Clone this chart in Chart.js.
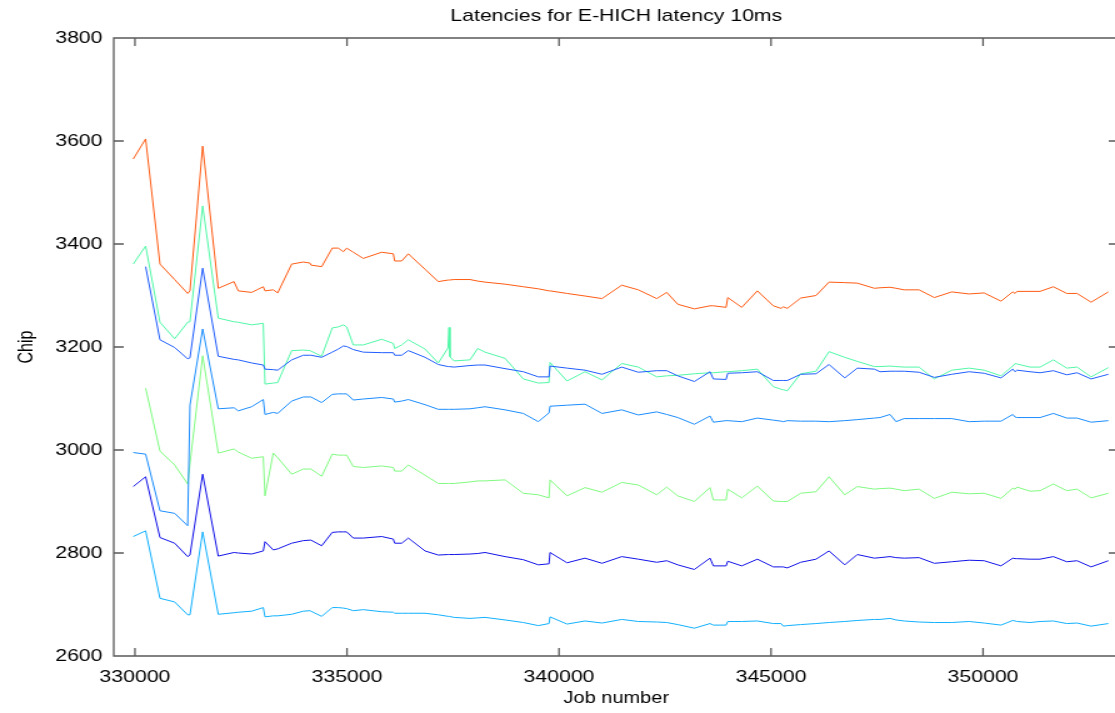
<!DOCTYPE html>
<html>
<head>
<meta charset="utf-8">
<title>Latencies for E-HICH latency 10ms</title>
<script src="https://cdn.jsdelivr.net/npm/chart.js@4"></script>
<style>
    html, body { margin: 0; padding: 0; background: #fff; overflow: hidden; }
</style>
</head>
<body>
<!-- plot is laid out on a narrower canvas and widened on screen -->
<canvas id="latency" width="900" height="713" style="display: block; width: 1125px; height: 713px;"></canvas>
<script>
"use strict";

// job numbers shared by every chip trace
var jobs = [
    329960, 330252, 330590, 330936, 331243, 331297, 331597, 331965, 332335, 332436,
    332752, 333026, 333066, 333262, 333366, 333696, 333969, 334127, 334151, 334403,
    334653, 334795, 334913, 334993, 335149, 335384, 335818, 336092, 336125, 336290,
    336446, 336840, 337153, 337382, 337406, 337429, 337524, 337901, 338083, 338255,
    338727, 339158, 339512, 339764, 339788, 340189, 340613, 341014, 341479, 341870,
    342304, 342540, 342800, 343191, 343561, 343639, 343939, 343979, 344309, 344677,
    345054, 345236, 345290, 345384, 345700, 346061, 346368, 346738, 347035, 347436,
    347571, 347806, 347948, 348136, 348490, 348851, 349262, 349670, 350024, 350424,
    350700, 350755, 350802, 351108, 351344, 351658, 351974, 352217, 352547, 352955
];

var chipOrange = [
    3565, 3604, 3361, 3331, 3304, 3309, 3590, 3314, 3327, 3309,
    3306, 3317, 3309, 3311, 3305, 3361, 3365, 3363, 3359, 3356,
    3392, 3392, 3385, 3392, 3384, 3372, 3384, 3381, 3367, 3367,
    3381, 3351, 3327, 3330, 3330, 3330, 3331, 3331, 3328, 3326,
    3322, 3317, 3313, 3309, 3309, 3304, 3299, 3294, 3320, 3311,
    3294, 3306, 3283, 3274, 3280, 3280, 3277, 3296, 3277, 3309,
    3280, 3275, 3278, 3275, 3295, 3300, 3326, 3325, 3324, 3314,
    3315, 3316, 3314, 3311, 3311, 3296, 3307, 3303, 3305, 3289,
    3307, 3304, 3308, 3308, 3308, 3317, 3304, 3304, 3287, 3307
];

var chipMint = [
    3361, 3396, 3248, 3216, 3248, 3249, 3474, 3256, 3249, 3248,
    3243, 3246, 3128, 3130, 3131, 3193, 3194, 3193, 3192, 3182,
    3237, 3239, 3243, 3239, 3204, 3204, 3215, 3207, 3197, 3204,
    3214, 3196, 3169, 3198, 3238, 3181, 3173, 3175, 3197, 3190,
    3178, 3138, 3130, 3131, 3170, 3134, 3152, 3136, 3168, 3161,
    3142, 3144, 3145, 3148, 3150, 3150, 3152, 3152, 3154, 3157,
    3123, 3118, 3117, 3115, 3148, 3153, 3191, 3180, 3172, 3162,
    3162, 3163, 3162, 3161, 3161, 3138, 3155, 3159, 3155, 3144,
    3163, 3168, 3167, 3161, 3161, 3175, 3159, 3161, 3142, 3160
];

var chipRoyal = [
    null, 3356, 3214, 3199, 3177, 3179, 3353, 3182, 3176, 3175,
    3169, 3165, 3157, 3156, 3155, 3175, 3184, 3184, 3184, 3180,
    3190, 3196, 3202, 3201, 3195, 3190, 3189, 3189, 3184, 3184,
    3193, 3180, 3166, 3162, 3162, 3162, 3161, 3164, 3165, 3165,
    3158, 3152, 3142, 3142, 3163, 3159, 3155, 3147, 3161, 3151,
    3154, 3154, 3144, 3133, 3152, 3138, 3137, 3149, 3150, 3152,
    3135, 3135, 3135, 3135, 3147, 3148, 3166, 3140, 3159, 3157,
    3152, 3153, 3153, 3153, 3151, 3141, 3147, 3152, 3149, 3140,
    3157, 3152, 3155, 3152, 3150, 3154, 3146, 3150, 3138, 3147
];

var chipAzure = [
    2995, 2992, 2882, 2877, 2853, 3087, 3235, 3080, 3082, 3076,
    3084, 3098, 3069, 3073, 3071, 3095, 3103, 3103, 3103, 3092,
    3108, 3109, 3109, 3109, 3097, 3099, 3102, 3099, 3093, 3095,
    3098, 3088, 3079, 3079, 3079, 3079, 3079, 3080, 3082, 3084,
    3078, 3071, 3055, 3072, 3085, 3087, 3089, 3071, 3078, 3068,
    3074, 3069, 3063, 3050, 3066, 3054, 3057, 3057, 3055, 3062,
    3058, 3056, 3055, 3057, 3056, 3056, 3055, 3057, 3059, 3062,
    3063, 3069, 3055, 3061, 3061, 3061, 3061, 3055, 3056, 3056,
    3069, 3064, 3063, 3063, 3063, 3071, 3062, 3062, 3054, 3057
];

var chipLime = [
    null, 3120, 2998, 2971, 2934, 2973, 3183, 2994, 3002, 2996,
    2984, 2987, 2911, 2994, 2985, 2953, 2963, 2963, 2963, 2949,
    2992, 2990, 2990, 2990, 2968, 2966, 2969, 2966, 2959, 2959,
    2971, 2951, 2935, 2935, 2935, 2935, 2935, 2938, 2940, 2940,
    2942, 2916, 2913, 2907, 2942, 2911, 2927, 2918, 2937, 2932,
    2913, 2928, 2911, 2900, 2927, 2903, 2903, 2924, 2907, 2930,
    2901, 2900, 2900, 2900, 2916, 2919, 2948, 2913, 2929, 2924,
    2925, 2926, 2924, 2921, 2924, 2906, 2918, 2915, 2916, 2906,
    2926, 2924, 2928, 2920, 2921, 2934, 2921, 2924, 2907, 2916
];

var chipNavy = [
    2929, 2948, 2830, 2819, 2793, 2796, 2953, 2794, 2801, 2800,
    2798, 2804, 2822, 2806, 2808, 2819, 2824, 2825, 2825, 2814,
    2840, 2841, 2841, 2841, 2829, 2829, 2832, 2827, 2819, 2819,
    2829, 2804, 2796, 2797, 2797, 2797, 2797, 2798, 2799, 2801,
    2793, 2787, 2777, 2779, 2801, 2781, 2790, 2780, 2793, 2788,
    2782, 2785, 2777, 2768, 2790, 2775, 2775, 2784, 2775, 2788,
    2773, 2773, 2773, 2771, 2782, 2788, 2804, 2777, 2797, 2790,
    2791, 2793, 2791, 2790, 2791, 2780, 2783, 2786, 2785, 2775,
    2790, 2789, 2789, 2788, 2788, 2793, 2783, 2785, 2773, 2785
];

var chipSky = [
    2832, 2843, 2712, 2705, 2680, 2680, 2841, 2681, 2684, 2685,
    2687, 2694, 2676, 2678, 2678, 2681, 2687, 2688, 2687, 2677,
    2694, 2694, 2693, 2692, 2688, 2690, 2686, 2685, 2683, 2683,
    2683, 2683, 2680, 2677, 2677, 2677, 2675, 2673, 2674, 2675,
    2670, 2665, 2659, 2663, 2676, 2662, 2668, 2664, 2671, 2667,
    2666, 2665, 2661, 2654, 2663, 2660, 2660, 2667, 2667, 2668,
    2663, 2663, 2658, 2659, 2661, 2663, 2665, 2667, 2669, 2671,
    2671, 2673, 2670, 2668, 2666, 2665, 2665, 2667, 2664, 2660,
    2669, 2668, 2667, 2665, 2667, 2668, 2663, 2664, 2658, 2663
];

// axis tick positions
var jobTicks = [330000, 335000, 340000, 345000, 350000];
var chipTicks = [2600, 2800, 3000, 3200, 3400, 3600, 3800];

var FONT = "'Liberation Sans', Arial, Helvetica, sans-serif";
var AXIS_COLOR = "#5a5a5a";
var TICK_LENGTH = 8;

/**
 * Pairs the job numbers with one trace's values.
 */
function points(values) {
    return jobs.map(function (job, i) {
        return { x: job, y: values[i] };
    });
}

function trace(values, color) {
    return {
        data: points(values),
        borderColor: color,
        borderWidth: 1,
        pointRadius: 0,
        tension: 0,
        spanGaps: false
    };
}

function fixedTicks(values) {
    return function (scale) {
        scale.ticks = values.map(function (v) {
            return { value: v };
        });
    };
}

/**
 * Box round the plot with the tick marks drawn inwards on all four sides.
 */
var frameTicks = {
    id: "frameTicks",
    afterDraw: function (chart) {
        var ctx = chart.ctx;
        var area = chart.chartArea;
        var xScale = chart.scales.x;
        var yScale = chart.scales.y;

        ctx.save();
        ctx.strokeStyle = AXIS_COLOR;
        ctx.lineWidth = 1.3;
        ctx.beginPath();
        ctx.rect(area.left, area.top, area.right - area.left, area.bottom - area.top);

        xScale.ticks.forEach(function (tick) {
            var px = xScale.getPixelForValue(tick.value);
            ctx.moveTo(px, area.bottom);
            ctx.lineTo(px, area.bottom - TICK_LENGTH);
            ctx.moveTo(px, area.top);
            ctx.lineTo(px, area.top + TICK_LENGTH);
        });

        yScale.ticks.forEach(function (tick) {
            var py = yScale.getPixelForValue(tick.value);
            ctx.moveTo(area.left, py);
            ctx.lineTo(area.left + TICK_LENGTH, py);
            ctx.moveTo(area.right, py);
            ctx.lineTo(area.right - TICK_LENGTH, py);
        });

        ctx.stroke();
        ctx.restore();
    }
};

var config = {
    type: "line",
    data: {
        datasets: [
            trace(chipNavy, "#1010e8"),
            trace(chipSky, "#10b0ff"),
            trace(chipAzure, "#1a8cff"),
            trace(chipRoyal, "#1e5cff"),
            trace(chipLime, "#80fa80"),
            trace(chipMint, "#50f7a6"),
            trace(chipOrange, "#ff5a12")
        ]
    },
    plugins: [frameTicks],
    options: {
        responsive: false,
        animation: false,
        devicePixelRatio: 1,
        layout: {
            padding: { left: 0, right: 5, top: 0, bottom: 0 }
        },
        scales: {
            x: {
                type: "linear",
                min: 329500,
                max: 353200,
                afterBuildTicks: fixedTicks(jobTicks),
                afterFit: function (scale) { scale.height = 57; },
                grid: { display: false, drawTicks: false },
                border: { display: false },
                ticks: {
                    maxRotation: 0,
                    autoSkip: false,
                    padding: 11,
                    color: "#000",
                    font: { family: FONT, size: 17 },
                    callback: function (value) { return String(value); }
                },
                title: {
                    display: true,
                    text: "Job number",
                    color: "#000",
                    font: { family: FONT, size: 16 },
                    padding: { top: 0, bottom: 5 }
                }
            },
            y: {
                min: 2600,
                max: 3800,
                afterBuildTicks: fixedTicks(chipTicks),
                afterFit: function (scale) { scale.width = 91; },
                grid: { display: false, drawTicks: false },
                border: { display: false },
                ticks: {
                    autoSkip: false,
                    padding: 9,
                    color: "#000",
                    font: { family: FONT, size: 17 },
                    callback: function (value) { return String(value); }
                },
                title: {
                    display: true,
                    text: "Chip",
                    color: "#000",
                    font: { family: FONT, size: 16 },
                    padding: { top: 12, bottom: 0 }
                }
            }
        },
        plugins: {
            legend: { display: false },
            tooltip: { enabled: false },
            title: {
                display: true,
                fullSize: false,
                text: "Latencies for E-HICH latency 10ms",
                color: "#000",
                font: { family: FONT, size: 17, weight: "normal" },
                padding: { top: 6, bottom: 11.6 }
            }
        }
    }
};

new Chart(document.getElementById("latency"), config);
</script>
</body>
</html>
